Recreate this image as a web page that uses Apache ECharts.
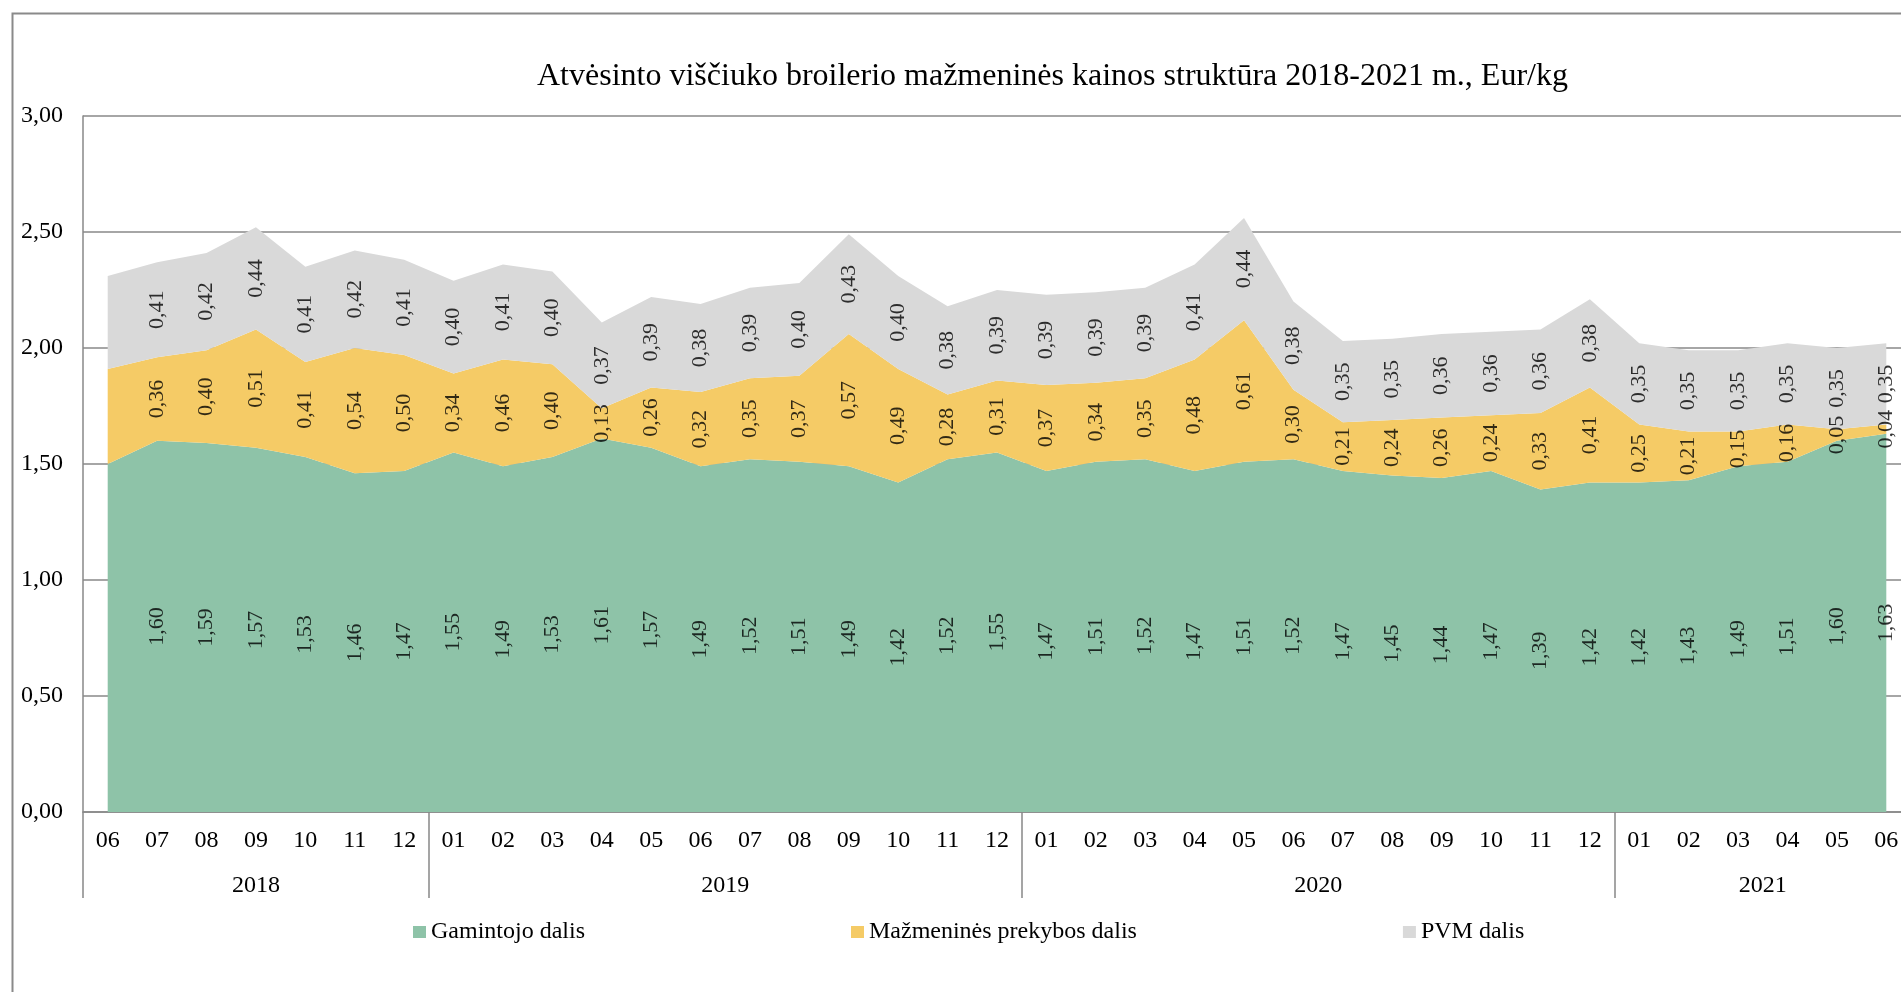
<!DOCTYPE html>
<html>
<head>
<meta charset="utf-8">
<script src="https://cdn.jsdelivr.net/npm/echarts@6/dist/echarts.min.js"></script>
<style>
html,body{margin:0;padding:0;background:#fff;overflow:hidden;width:1901px;height:992px;}
#c{width:1911px;height:992px;}
</style>
</head>
<body>
<div id="c"></div>
<script>
// ---- data ----
const years = ['2018', '2019', '2020', '2021'];
const monthsByYear = [
  ['06','07','08','09','10','11','12'],
  ['01','02','03','04','05','06','07','08','09','10','11','12'],
  ['01','02','03','04','05','06','07','08','09','10','11','12'],
  ['01','02','03','04','05','06']
];
const seriesNames = ['Gamintojo dalis', 'Mažmeninės prekybos dalis', 'PVM dalis'];
const producer = [
  1.50, 1.60, 1.59, 1.57, 1.53, 1.46, 1.47,
  1.55, 1.49, 1.53, 1.61, 1.57, 1.49, 1.52, 1.51, 1.49, 1.42, 1.52, 1.55,
  1.47, 1.51, 1.52, 1.47, 1.51, 1.52, 1.47, 1.45, 1.44, 1.47, 1.39, 1.42,
  1.42, 1.43, 1.49, 1.51, 1.60, 1.63
];
const retail = [
  0.41, 0.36, 0.40, 0.51, 0.41, 0.54, 0.50,
  0.34, 0.46, 0.40, 0.13, 0.26, 0.32, 0.35, 0.37, 0.57, 0.49, 0.28, 0.31,
  0.37, 0.34, 0.35, 0.48, 0.61, 0.30, 0.21, 0.24, 0.26, 0.24, 0.33, 0.41,
  0.25, 0.21, 0.15, 0.16, 0.05, 0.04
];
const vat = [
  0.40, 0.41, 0.42, 0.44, 0.41, 0.42, 0.41,
  0.40, 0.41, 0.40, 0.37, 0.39, 0.38, 0.39, 0.40, 0.43, 0.40, 0.38, 0.39,
  0.39, 0.39, 0.39, 0.41, 0.44, 0.38, 0.35, 0.35, 0.36, 0.36, 0.36, 0.38,
  0.35, 0.35, 0.35, 0.35, 0.35, 0.35
];
const yTicks = [0, 0.5, 1, 1.5, 2, 2.5, 3];

// ---- derived ----
const categories = [].concat(...monthsByYear);
const yearStarts = [];
const yearCenters = [];
let acc = 0;
monthsByYear.forEach(m => { yearStarts.push(acc); yearCenters.push(acc + m.length / 2); acc += m.length; });
const N = categories.length;

const colors = ['#8EC3A8', '#F5CB66', '#D9D9D9'];
const font = "'Liberation Serif', 'Times New Roman', serif";
const fmt = v => v.toFixed(2).replace('.', ',');

const layers = [producer, retail, vat];
const mids = layers.map((arr, k) => arr.map((v, i) => {
  let base = 0;
  for (let j = 0; j < k; j++) base += layers[j][i];
  return [i, base + v / 2, v];
}));

const areaSeries = layers.map((arr, k) => ({
  name: seriesNames[k],
  type: 'line',
  stack: 'total',
  data: arr,
  showSymbol: false,
  symbol: 'none',
  lineStyle: { width: 0 },
  areaStyle: { color: colors[k], opacity: 1 },
  itemStyle: { color: colors[k] },
  silent: true,
  z: 2
}));

const labelSeries = mids.map((arr, k) => ({
  type: 'scatter',
  data: arr,
  symbolSize: 1,
  itemStyle: { color: 'rgba(0,0,0,0)' },
  silent: true,
  z: 5,
  label: {
    show: true,
    position: 'inside',
    rotate: 90,
    fontFamily: font,
    fontSize: 22,
    color: '#000',
    formatter: p => p.dataIndex === 0 ? '' : fmt(p.value[2])
  }
}));

const chart = echarts.init(document.getElementById('c'), null, { renderer: 'canvas' });
chart.setOption({
  animation: false,
  backgroundColor: '#fff',
  graphic: [{
    type: 'rect',
    left: 10, top: 11,
    shape: { width: 1920, height: 1000 },
    style: { fill: 'none', stroke: '#8a8a8a', lineWidth: 2 },
    silent: true
  }],
  title: {
    text: 'Atvėsinto viščiuko broilerio mažmeninės kainos struktūra 2018-2021 m., Eur/kg',
    left: 537,
    top: 61,
    padding: 0,
    textStyle: { fontFamily: font, fontSize: 32, fontWeight: 'normal', color: '#000' }
  },
  legend: {
    data: seriesNames,
    left: 413,
    top: 920,
    itemGap: 266,
    itemWidth: 13,
    itemHeight: 12,
    padding: 0,
    icon: 'rect',
    textStyle: { fontFamily: font, fontSize: 24, color: '#000' }
  },
  grid: { left: 83, top: 116, right: 0, bottom: 180, containLabel: false },
  xAxis: [{
    type: 'category',
    data: categories,
    boundaryGap: true,
    position: 'bottom',
    axisLine: { show: true, lineStyle: { color: '#888', width: 1.5 } },
    axisTick: { show: false },
    axisLabel: { interval: 0, margin: 17, fontFamily: font, fontSize: 24, color: '#000' },
    splitLine: { show: false }
  }, {
    type: 'value',
    min: 0,
    max: N,
    position: 'bottom',
    axisLine: { show: false },
    axisTick: { show: true, customValues: yearStarts, length: 86, lineStyle: { color: '#888', width: 1.5 } },
    axisLabel: {
      customValues: yearCenters,
      margin: 62,
      fontFamily: font, fontSize: 24, color: '#000',
      formatter: v => years[yearCenters.indexOf(v)] || ''
    },
    splitLine: { show: false }
  }],
  yAxis: {
    type: 'value',
    min: yTicks[0],
    max: yTicks[yTicks.length - 1],
    interval: 0.5,
    axisLine: { show: true, lineStyle: { color: '#888', width: 1.5 } },
    axisTick: { show: false },
    axisLabel: { margin: 20, fontFamily: font, fontSize: 24, color: '#000', formatter: v => fmt(v) },
    splitLine: { show: true, lineStyle: { color: '#888', width: 1.5 } }
  },
  series: areaSeries.concat(labelSeries)
});
</script>
</body>
</html>
